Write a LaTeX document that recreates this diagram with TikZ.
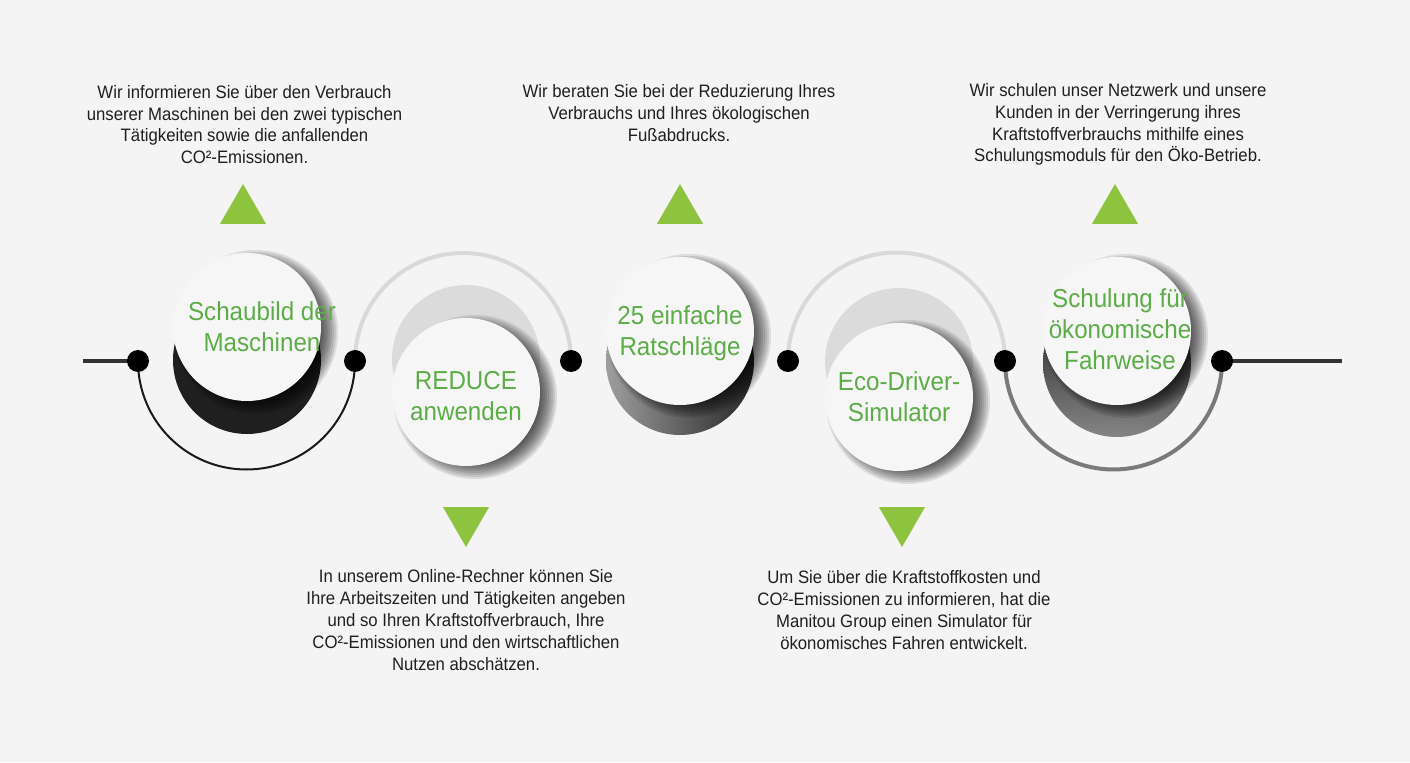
\documentclass[tikz,border=0pt]{standalone}
\usepackage{fontspec}
\setmainfont[FakeStretch=0.93]{Liberation Sans}
\usetikzlibrary{shapes.geometric,calc}
\definecolor{pagegray}{HTML}{F4F4F4}
\definecolor{discwhite}{HTML}{F6F6F6}
\definecolor{leafgreen}{HTML}{8DC33F}
\definecolor{titlegreen}{HTML}{5CAD48}
\definecolor{axisgray}{HTML}{333333}
\tikzset{disc/.style={circle, fill=discwhite, minimum size=74pt, inner sep=0pt},
        body/.style={circle, minimum size=74pt, inner sep=0pt},
        joint/.style={circle, fill=black, minimum size=11pt, inner sep=0pt},
        upmark/.style={regular polygon, regular polygon sides=3, fill=leafgreen,
                       minimum size=26.6pt, inner sep=0pt},
        downmark/.style={upmark, shape border rotate=180},
        infotext/.style={align=center, text=black!88, inner sep=0pt,
                         font=\fontsize{9}{10.9}\selectfont},
        disclabel/.style={align=center, text=titlegreen, inner sep=0pt,
                          font=\fontsize{13}{15.5}\selectfont},
        axis line/.style={draw=axisgray, line width=2pt},
        }
% soft shadow under a disc, built from stacked see-through circles
\newcommand\discshadow[1]{%
  \foreach \r in {30,...,41}
    \fill[black, fill opacity=0.1] ([shift={(4.5pt,-2.5pt)}]#1) circle[radius=\r pt];}

\begin{document}
\begin{tikzpicture}[x=0.5pt,y=0.5pt]
    \fill[pagegray] (0,0) rectangle (1410,762);
    \useasboundingbox (0,0) rectangle (1410,762);

    % points on the axis
    \coordinate (lend) at (83,401);
    \coordinate (p0) at (138,401);
    \coordinate (p1) at (355,401);
    \coordinate (p2) at (571,401);
    \coordinate (p3) at (788,401);
    \coordinate (p4) at (1005,401);
    \coordinate (p5) at (1222,401);
    \coordinate (rend) at (1342,401);

    % disc centres
    \coordinate (o1) at (247,435);
    \coordinate (o2) at (466,370);
    \coordinate (o3) at (680,431);
    \coordinate (o4) at (899,365);
    \coordinate (o5) at (1117,431);

    % arcs between the points
    \draw[black!90, line width=1pt] let \p1=($(p1)-(p0)$) in
        (p0) arc[start angle=180, end angle=360, radius=0.5*\x1];
    \draw[black!15, line width=2pt] let \p1=($(p2)-(p1)$) in
        (p1) arc[start angle=180, end angle=0, radius=0.5*\x1];
    \draw[black!15, line width=2pt] let \p1=($(p4)-(p3)$) in
        (p3) arc[start angle=180, end angle=0, radius=0.5*\x1];
    \draw[black!52, line width=2pt] let \p1=($(p5)-(p4)$) in
        (p4) arc[start angle=180, end angle=360, radius=0.5*\x1];

    \draw[axis line] (lend) -- (p0);
    \draw[axis line] (p5) -- (rend);

    % bodies behind the discs
    \node[body, fill=black!88] (b1) at (247,402) {};
    \node[body, fill=black!14] (b2) at (466,403) {};
    \node[body, left color=black!38, right color=black!85] (b3) at (680,401) {};
    \node[body, fill=black!14] (b4) at (899,400) {};
    \node[body, top color=black!90, bottom color=black!48] (b5) at (1117,399) {};

    \discshadow{o1}
    \discshadow{o2}
    \discshadow{o3}
    \discshadow{o4}
    \discshadow{o5}

    % discs
    \node[disc] (c1) at (o1) {};
    \node[disc] (c2) at (o2) {};
    \node[disc] (c3) at (o3) {};
    \node[disc] (c4) at (o4) {};
    \node[disc] (c5) at (o5) {};

    \node[disclabel] (l1) at ([xshift=7.5pt]c1) {Schaubild der\\Maschinen};
    \node[disclabel] (l2) at ([yshift=-2pt]c2) {REDUCE\\anwenden};
    \node[disclabel] (l3) at ([yshift=-1pt]c3) {25 einfache\\Ratschläge};
    \node[disclabel] (l4) at (c4) {Eco-Driver-\\Simulator};
    \node[disclabel] (l5) at ([xshift=1.5pt,yshift=1pt]c5) {Schulung für\\ökonomische\\Fahrweise};

    \node[joint] (j0) at (p0) {};
    \node[joint] (j1) at (p1) {};
    \node[joint] (j2) at (p2) {};
    \node[joint] (j3) at (p3) {};
    \node[joint] (j4) at (p4) {};
    \node[joint] (j5) at (p5) {};

    % markers
    \node[upmark] (m1) at (243,551.4) {};
    \node[downmark] (m2) at (466,241.6) {};
    \node[upmark] (m3) at (680,551.4) {};
    \node[downmark] (m4) at (902,241.6) {};
    \node[upmark] (m5) at (1115,551.4) {};

    % texts
    \node[infotext] (t1) at (244.5,637.5) {Wir informieren Sie über den Verbrauch\\unserer Maschinen bei den zwei typischen\\Tätigkeiten sowie die anfallenden\\CO²-Emissionen.};
    \node[infotext] (t2) at (466,142) {In unserem Online-Rechner können Sie\\Ihre Arbeitszeiten und Tätigkeiten angeben\\und so Ihren Kraftstoffverbrauch, Ihre\\CO²-Emissionen und den wirtschaftlichen\\Nutzen abschätzen.};
    \node[infotext] (t3) at (679,649) {Wir beraten Sie bei der Reduzierung Ihres\\Verbrauchs und Ihres ökologischen\\Fußabdrucks.};
    \node[infotext] (t4) at (904,152) {Um Sie über die Kraftstoffkosten und\\CO²-Emissionen zu informieren, hat die\\Manitou Group einen Simulator für\\ökonomisches Fahren entwickelt.};
    \node[infotext] (t5) at (1118,637.5) {Wir schulen unser Netzwerk und unsere\\Kunden in der Verringerung ihres\\Kraftstoffverbrauchs mithilfe eines\\Schulungsmoduls für den Öko-Betrieb.};
\end{tikzpicture}
\end{document}
